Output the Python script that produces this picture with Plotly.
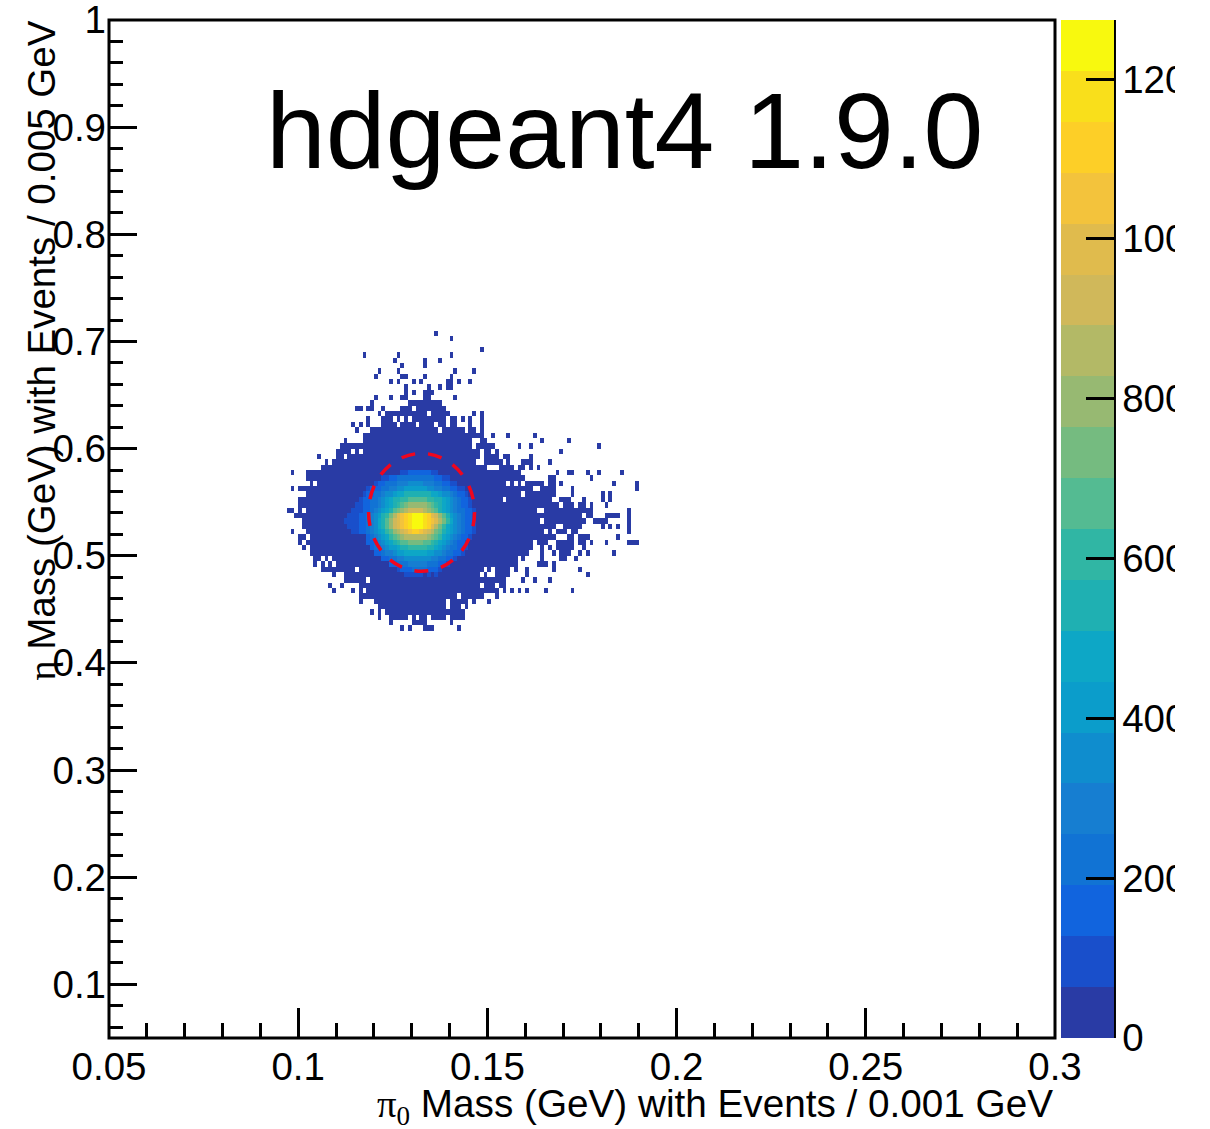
import plotly.graph_objects as go

# Histogram binning of the reference (GeV)
x_bin_width = 0.001
y_bin_width = 0.005
x_start = 0.05
y_start = 0.05
n_x_bins = 250
n_y_bins = 190

x_tick_values = [0.05, 0.1, 0.15, 0.2, 0.25, 0.3]
x_tick_labels = ["0.05", "0.1", "0.15", "0.2", "0.25", "0.3"]
y_tick_values = [0.1, 0.2, 0.3, 0.4, 0.5, 0.6, 0.7, 0.8, 0.9, 1.0]
y_tick_labels = ["0.1", "0.2", "0.3", "0.4", "0.5", "0.6", "0.7", "0.8", "0.9", "1"]
z_tick_values = [0, 200, 400, 600, 800, 1000, 1200]
z_tick_labels = ["0", "200", "400", "600", "800", "1000", "1200"]

z_max = 1274
band_colors = ["#293ba5", "#194fcb", "#1164de", "#1173d4", "#167ed1", "#0f8dce", "#0b9dcb",
               "#0da7c6", "#1fb0b2", "#30b6a4", "#54bb92", "#75bb80", "#97b972", "#b3b966",
               "#d0b85a", "#e0bb4d", "#f3c33c", "#fdcf27", "#f9df1b", "#f8f90e"]

# Occupied x bins per y bin: lowest colour band (low-count envelope)
occupied_rows = {
    131: [86], 130: [90], 128: [98],
    127: [67, 76, 90], 126: [75, 83, 87], 125: [77, 83],
    124: [71, 76, 91, 96], 123: [70, (77, 78), 83, 90],
    122: [74, 76, 80, 82, (89, 90), 92, 95], 121: [78, 84, 87, (89, 90)],
    120: [78, 80, (83, 85)], 119: [70, 74, (77, 78), (83, 84), 91],
    118: [69, (79, 87)], 117: [(65, 66), (68, 69), 72, (77, 79), (81, 88)],
    116: [71, (73, 83), (85, 89), 96, 98],
    115: [68, (72, 74), 76, 78, (80, 88), (90, 91), 93, 95, 98],
    114: [64, 66, 68, (72, 75), (77, 80), (82, 85), (87, 88), (90, 91), 95, 98],
    113: [65, (69, 86), (88, 93), (95, 96), 98],
    112: [(67, 98), 101, 105, 112],
    111: [62, (67, 95), (98, 99), 114, 121],
    110: [(61, 95), (97, 101), 108, 111, 129],
    109: [(60, 63), 65, (67, 97), (99, 100), 102, 119],
    108: [55, (60, 61), (63, 97), (99, 102), (104, 105), 111],
    107: [57, (59, 96), (99, 103), 105, (109, 111), 116],
    106: [(56, 99), (103, 106), (108, 109), 111, 113],
    105: [48, (52, 108), 118, (121, 122), 126, 129, 135],
    104: [(52, 56), (57, 105), (106, 109), (116, 117), 127],
    103: [53, (55, 104), 106, 108, (110, 114), (116, 117), 119, 133, 139],
    102: [48, (50, 111), 114, (115, 117), 122, 139],
    101: [(52, 108), (110, 117), 122, 130, 132],
    100: [(50, 103), (105, 116), (119, 121), 125, 130, 132],
    99: [(50, 118), (120, 122), (124, 125), 127, 131],
    98: [(47, 48), 50, (52, 112), (115, 127), 137],
    97: [(49, 124), (126, 127), (131, 134), 137],
    96: [(51, 113), (115, 125), (128, 131), 137],
    95: [(51, 117), (120, 124), 130, 132, 134, 137],
    94: [48, (52, 113), 114, 116, (118, 120), (122, 123), 137],
    93: [(50, 51), (53, 117), (121, 122), (124, 125), 126, 134],
    92: [50, (52, 111), (113, 115), (118, 122), (124, 125), 127, 131, (137, 139)],
    91: [51, (53, 111), 114, 116, (118, 122), 125],
    90: [(53, 110), 114, 117, (119, 121), 124, 126, 133],
    89: [(54, 55), 57, (59, 107), 109, 114, (119, 120), 123],
    88: [54, 56, 58, (60, 107), (113, 115), 117],
    87: [(56, 64), (66, 98), 100, (102, 105), 107, 110, 117, 124],
    86: [59, (62, 97), 99, (102, 105), 110, 126],
    85: [(62, 67), (69, 104), 109, 112, 116],
    84: [58, 61, (66, 97), (99, 101), (103, 104)],
    83: [59, 64, 66, (68, 102), 104, 106, 108, 110, 115, 122],
    82: [66, (67, 91), (93, 98), 102],
    81: [66, (70, 88), (90, 94), 96, 100],
    80: [(71, 88), (90, 92), 94],
    79: [69, 71, (73, 93)],
    78: [71, (74, 78), 80, (82, 83), (85, 88), (90, 93)],
    77: [74, (80, 83), 90],
    76: [77, 79, (83, 85), 92],
}

# Dense core: colour band (base 20) per x bin, first x bin given by core_first_bin
core_first_bin = {105: 77, 104: 72, 103: 70, 102: 68, 101: 67, 100: 66, 99: 65, 98: 64, 97: 63,
                  96: 62, 95: 63, 94: 64, 93: 68, 92: 68, 91: 69, 90: 70, 89: 72, 88: 74, 87: 76,
                  86: 78}
core_bands = {
    105: "1122222211",
    104: "112233333333332211",
    103: "1223334445555444332211",
    102: "12223344556666665544332211",
    101: "1223345567788888887765543221",
    100: "1223345678899aaaaa998876543221",
    99: "112233456789abcccccba9876543221",
    98: "11122345678abcdeeeedcba8765433221",
    97: "11122345689bdfghijjjihfeca86543221",
    96: "11112234578acefghijjjihgfdb97543221",
    95: "1112234578acefghijjjihfdb976543221",
    94: "1122345679acdefghhgfedba876543221",
    93: "2345679abcddddddcba976543221",
    92: "223456789aabbbbaa9876543221",
    91: "23345667889999988765433221",
    90: "223445667777776655433221",
    89: "22334455555554433221",
    88: "2233344444333221",
    87: "122233332221",
    86: "11111.1.1",
}

# Red selection ellipse, in data units
ellipse_x = (0.1186, 0.1466)
ellipse_y = (0.4855, 0.5955)

band_width = z_max / len(band_colors)
z = [[None] * n_x_bins for _ in range(n_y_bins)]
for j, spans in occupied_rows.items():
    for span in spans:
        first, last = span if isinstance(span, tuple) else (span, span)
        for i in range(first, last + 1):
            z[j][i] = band_width * 0.5
for j, text in core_bands.items():
    for k, ch in enumerate(text):
        if ch != ".":
            z[j][core_first_bin[j] + k] = (int(ch, 20) + 0.5) * band_width

colorscale = []
for k, c in enumerate(band_colors):
    colorscale.append([k / len(band_colors), c])
    colorscale.append([(k + 1) / len(band_colors), c])

LEFT, RIGHT, TOP, BOTTOM = 108.5, 1055, 20, 1038
FONT = "Liberation Sans, Arial, Helvetica, sans-serif"
TICK_SIZE = 38.5

fig = go.Figure(go.Heatmap(
    z=z,
    x0=x_start + x_bin_width / 2, dx=x_bin_width,
    y0=y_start + y_bin_width / 2, dy=y_bin_width,
    zmin=0, zmax=z_max, zsmooth=False, hoverongaps=False,
    colorscale=colorscale,
    colorbar=dict(
        thicknessmode="pixels", thickness=52.5,
        lenmode="fraction", len=1, y=0.5, yanchor="middle",
        x=(1061 - LEFT) / (RIGHT - LEFT), xanchor="left", xpad=0, ypad=0,
        outlinewidth=0, borderwidth=0,
        tickmode="array", tickvals=z_tick_values, ticktext=z_tick_labels,
        ticks="inside", ticklen=28, tickwidth=3, tickcolor="black",
        tickfont=dict(family=FONT, size=TICK_SIZE, color="black"),
    ),
))

axis_common = dict(showgrid=False, zeroline=False, showline=False,
                   ticks="inside", tickwidth=2.5,
                   tickcolor="black", tickmode="array", ticklabeloverflow="allow",
                   tickfont=dict(family=FONT, size=TICK_SIZE, color="black"))
fig.update_xaxes(range=[0.05, 0.3], tickvals=x_tick_values, ticktext=x_tick_labels, ticklen=30,
                 ticklabelstandoff=2,
                 minor=dict(ticks="inside", ticklen=15, tickwidth=2.5, tickcolor="black",
                            tick0=0.05, dtick=0.01), **axis_common)
fig.update_yaxes(range=[0.05, 1.0], tickvals=y_tick_values, ticktext=y_tick_labels, ticklen=28,
                 ticklabelstandoff=2,
                 minor=dict(ticks="inside", ticklen=14, tickwidth=2.5, tickcolor="black",
                            tick0=0, dtick=0.02), **axis_common)

fig.add_shape(type="circle", xref="x", yref="y", x0=ellipse_x[0], x1=ellipse_x[1],
              y0=ellipse_y[0], y1=ellipse_y[1],
              line=dict(color="#f0061e", width=3.5, dash="14px,13px"))
fig.add_shape(type="rect", xref="paper", yref="paper", x0=0, x1=1, y0=0, y1=1,
              line=dict(color="black", width=3))
fig.add_shape(type="line", xref="paper", yref="paper",
              x0=(1114.5 - LEFT) / (RIGHT - LEFT), x1=(1114.5 - LEFT) / (RIGHT - LEFT), y0=0, y1=1,
              line=dict(color="black", width=3))

SERIF = "font-family:Liberation Serif"
fig.add_annotation(text="hdgeant4 1.9.0", xref="paper", yref="paper", showarrow=False,
                   x=(264 - LEFT) / (RIGHT - LEFT), y=(BOTTOM - 131) / (BOTTOM - TOP),
                   xanchor="left", yanchor="middle",
                   font=dict(family=FONT, size=107.5, color="black"))
fig.add_annotation(text=f'<span style="{SERIF}">π<sub>0</sub></span> Mass (GeV) with Events / 0.001 GeV',
                   xref="paper", yref="paper", showarrow=False, x=1, xanchor="right",
                   y=(BOTTOM - 1106) / (BOTTOM - TOP), yanchor="middle",
                   font=dict(family=FONT, size=38.7, color="black"))
fig.add_annotation(text=f'<span style="{SERIF}">η</span> Mass (GeV) with Events / 0.005 GeV',
                   xref="paper", yref="paper", showarrow=False, textangle=-90,
                   x=(40 - LEFT) / (RIGHT - LEFT), xanchor="center",
                   y=(BOTTOM - 351) / (BOTTOM - TOP), yanchor="middle",
                   font=dict(family=FONT, size=38.5, color="black"))

fig.update_layout(width=1175, height=1129, paper_bgcolor="white", plot_bgcolor="white",
                  margin=dict(l=LEFT, r=1175 - RIGHT, t=TOP, b=1129 - BOTTOM, pad=0, autoexpand=False),
                  showlegend=False)

fig.write_html("out.html", config={"displayModeBar": False},
               post_script="document.body.style.margin='0';document.body.style.overflow='hidden';")
